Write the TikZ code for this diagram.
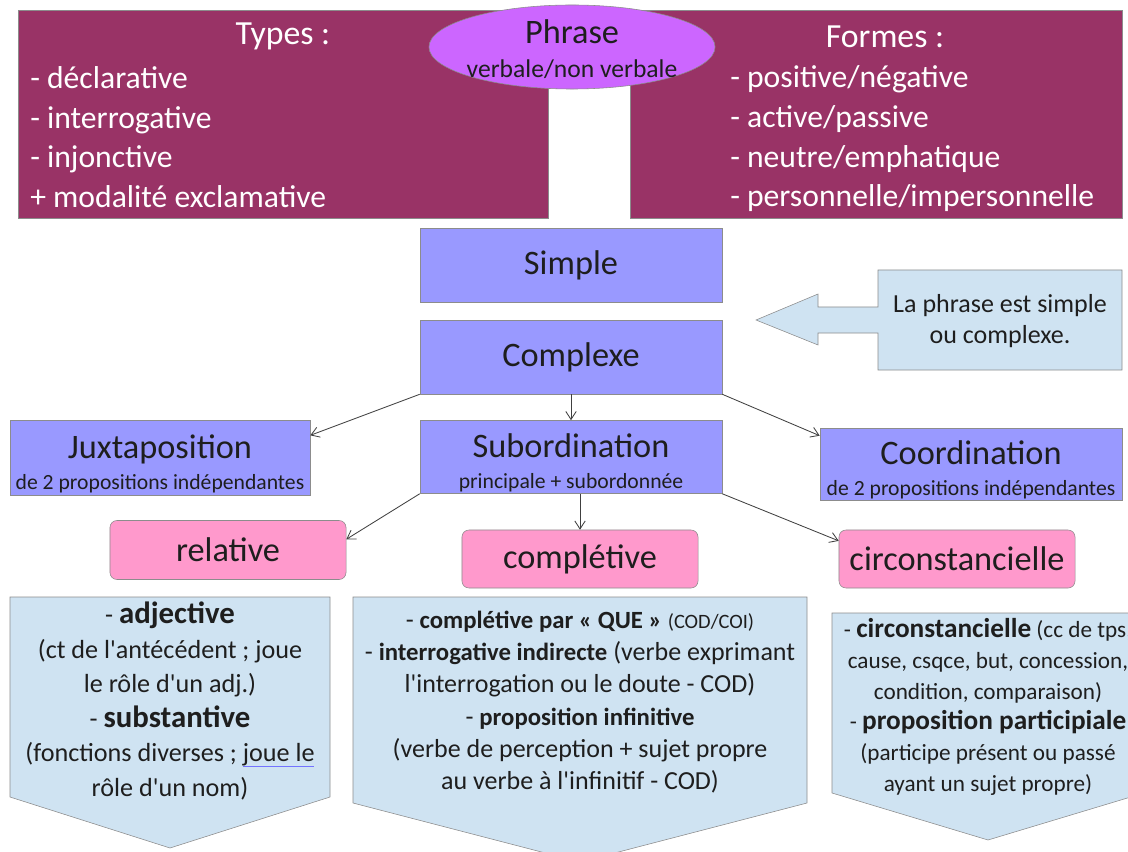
\documentclass[tikz,border=0pt]{standalone}
\usepackage{fontspec}
\setmainfont{Carlito}[Ligatures=TeXOff]
\usetikzlibrary{arrows.meta}
\usetikzlibrary{shapes.geometric}
\usetikzlibrary{calc}
\definecolor{prune}{RGB}{153,51,102}
\definecolor{mauve}{RGB}{204,102,255}
\definecolor{lavande}{RGB}{153,153,255}
\definecolor{rose}{RGB}{255,153,204}
\definecolor{ciel}{RGB}{207,227,242}
\definecolor{bord}{RGB}{140,140,140}
\definecolor{encre}{RGB}{30,30,30}
\newcommand{\fs}[2]{\fontsize{#1}{#2}\selectfont}

\begin{document}
\begin{tikzpicture}[x=0.025cm, y=-0.025cm,
		cadre/.style={draw=bord, fill=prune, minimum width=13.25cm, minimum height=5.2cm, inner sep=0pt},
		titre/.style={text=white, font=\fs{24}{28}},
		liste/.style={text=white, align=left, inner sep=0pt, font=\fs{22.5}{28.2}},
		boite/.style={draw=bord, fill=lavande, text=encre, align=center, inner sep=0pt,
			minimum width=7.55cm, minimum height=1.85cm, font=\fs{24.4}{24}},
		etiquette/.style={draw=bord, fill=rose, text=encre, rounded corners=5pt, inner sep=0pt,
			minimum width=5.9cm, minimum height=1.45cm, font=\fs{24.4}{28}},
		panneau/.style={draw=bord, fill=ciel},
		texte/.style={text=encre, align=center, inner sep=0pt},
		fleche/.style={draw=encre!85, line width=0.6pt, -{Straight Barb[length=2mm, width=2.6mm]}}]
		\useasboundingbox (0,0) rectangle (1128,852);

		\node [cadre] (types) at (283,114) {};
		\node [cadre, minimum width=12.3cm] (formes) at (876,114) {};
		\node [titre] (typestitre) at (283,36) {Types :};
		\node [titre] (formestitre) at (885,37) {Formes :};
		\node [liste, anchor=west] (typesliste) at (30,137) {- déclarative\\- interrogative\\- injonctive\\+ modalité exclamative};
		\node [liste, anchor=west] (formesliste) at (730,139) {- positive/négative\\- active/passive\\- neutre/emphatique\\- personnelle/impersonnelle};
		\node [ellipse, draw=bord, fill=mauve, minimum width=7.15cm, minimum height=2.1cm] (phrase) at (572,47) {};
		\node [texte, font=\fs{24.4}{26}] (phrasetexte) at ([yshift=-1.5pt]phrase.center)
			{Phrase\\[-2pt]{\fs{18.2}{20}verbale/non verbale}};

		\node [boite] (simple) at (571,265) {Simple};
		\node [boite] (complexe) at (571,357) {Complexe};

		\draw [panneau] (878,270) -- (1122,270) -- (1122,370) -- (878,370) -- (878,333) -- (818,333)
			-- (818,345) -- (756,320) -- (818,294) -- (818,307) -- (878,307) -- cycle;
		\node [texte, font=\fs{18.5}{22}] (remarque) at (1000,321) {La phrase est simple\\ou complexe.};

		\node [boite, minimum width=7.5cm, minimum height=1.875cm] (juxta) at (160,458) {};
		\node [boite, minimum height=1.825cm] (subord) at (571,457) {};
		\node [boite, minimum height=1.8cm] (coord) at (971,464) {};
		\node [texte, font=\fs{24.4}{24}] (juxtatexte) at ([yshift=-4pt]juxta.center)
			{Juxtaposition\\[-2pt]{\fs{15.4}{20}de 2 propositions indépendantes}};
		\node [texte, font=\fs{24.4}{24}] (subordtexte) at ([yshift=-4pt]subord.center)
			{Subordination\\[-2pt]{\fs{15.4}{20}principale + subordonnée}};
		\node [texte, font=\fs{24.4}{24}] (coordtexte) at ([yshift=-4pt]coord.center)
			{Coordination\\[-2pt]{\fs{15.4}{20}de 2 propositions indépendantes}};

		\draw [fleche] (complexe.south west) -- ($(juxta.north east)!0.2!(juxta.south east)$);
		\draw [fleche] (complexe.south) -- (subord.north);
		\draw [fleche] (complexe.south east) -- ($(coord.north west)!0.11!(coord.south west)$);

		\node [etiquette, minimum height=1.475cm] (relative) at (228,550) {relative};
		\node [etiquette] (completive) at (580,559) {complétive};
		\node [etiquette] (circ) at (957,559) {circonstancielle};

		\draw [fleche] (subord.south west) -- ($(relative.north east)!0.32!(relative.south east)$);
		\draw [fleche] (subord.south -| completive) -- (completive.north);
		\draw [fleche] (subord.south east) -- ($(circ.north west)!0.19!(circ.south west)$);

		\draw [panneau] (10,597) -- (330,597) -- (330,797) -- (170,848) -- (10,797) -- cycle;
		\draw [panneau] (353,597) -- (807,597) -- (807,803) -- (580,862) -- (353,803) -- cycle;
		\draw [panneau] (832,613) -- (1144,613) -- (1144,793) -- (988,840) -- (832,793) -- cycle;

		\node [texte, font=\fs{18.6}{24.6}] (relatives) at (170,701)
			{- {\fs{21.9}{24.6}\bfseries adjective}\\(ct de l'antécédent ; joue\\le rôle d'un adj.)\\
			- {\fs{21.9}{24.6}\bfseries substantive}\\(fonctions diverses ; joue le\\rôle d'un nom)};
		\draw [blue!55, line width=0.5pt] (243,766) -- (314,766);
		\node [texte, font=\fs{18.5}{23}] (completives) at (580,702)
			{- {\fs{17.6}{23}\bfseries complétive par « QUE »} {\fs{14.5}{23}(COD/COI)}\\
			- {\fs{17.6}{23}\bfseries interrogative indirecte} (verbe exprimant\\l'interrogation ou le doute - COD)\\
			- {\fs{17.6}{23}\bfseries proposition infinitive}\\(verbe de perception + sujet propre\\au verbe à l'infinitif - COD)};
		\node [texte, font=\fs{16.5}{21.9}] (circs) at (988,707)
			{- {\fs{19.4}{21.9}\bfseries circonstancielle} (cc de tps,\\cause, csqce, but, concession,\\condition, comparaison)\\
			- {\fs{19.4}{21.9}\bfseries proposition participiale}\\(participe présent ou passé\\ayant un sujet propre)};
	\end{tikzpicture}
\end{document}
